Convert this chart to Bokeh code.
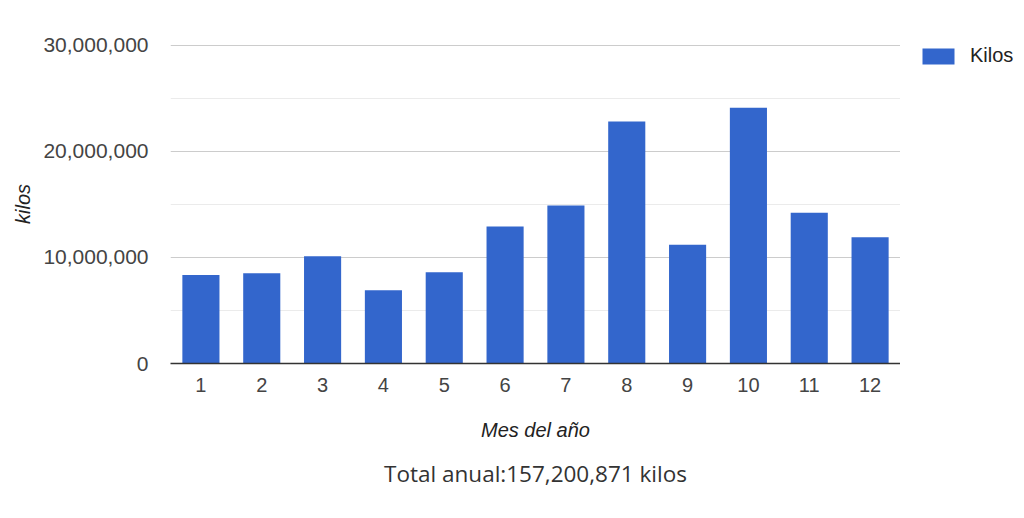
from bokeh.plotting import figure
from bokeh.layouts import row
from bokeh.models import (ColumnDataSource, Range1d, FactorRange, FixedTicker,
                          NumeralTickFormatter, Legend, Title)
from bokeh.embed import file_html
from bokeh.resources import INLINE

months = ["1", "2", "3", "4", "5", "6", "7", "8", "9", "10", "11", "12"]
kilos = [8330000, 8500000, 10100000, 6900000, 8600000, 12900000,
         14900000, 22800000, 11200000, 24100000, 14200000, 11900000]
y_major = [0, 10000000, 20000000, 30000000]
y_minor = [5000000, 15000000, 25000000]
series_name = "Kilos"
x_title = "Mes del año"
y_title = "kilos"
footer = "Total anual:157,200,871 kilos"

BAR_COLOR = "#3366CC"
BASE_FONT = "Liberation Sans"
H = 505
TOP = 44
BOTTOM = H - 363

source = ColumnDataSource(data=dict(month=months, kilos=kilos))

p = figure(width=900, height=H, output_backend="svg", toolbar_location=None,
           x_range=FactorRange(factors=months), y_range=Range1d(0, 30060000),
           min_border_left=170, min_border_right=0, min_border_top=TOP,
           min_border_bottom=BOTTOM)
p.outline_line_color = None
p.background_fill_color = "white"

r = p.vbar(x="month", top="kilos", width=0.61, source=source,
           fill_color=BAR_COLOR, line_color=None)

# y axis
p.yaxis.ticker = FixedTicker(ticks=y_major, minor_ticks=y_minor)
p.yaxis.formatter = NumeralTickFormatter(format="0,0")
p.yaxis.axis_line_color = None
p.yaxis.major_tick_line_color = None
p.yaxis.minor_tick_line_color = None
p.yaxis.major_tick_in = 0
p.yaxis.major_tick_out = 0
p.yaxis.minor_tick_out = 0
p.yaxis.major_label_standoff = 22
p.yaxis.major_label_text_font = BASE_FONT
p.yaxis.major_label_text_font_size = "21px"
p.yaxis.major_label_text_color = "#444444"
p.yaxis.axis_label = y_title
p.yaxis.axis_label_text_font = BASE_FONT
p.yaxis.axis_label_text_font_size = "20px"
p.yaxis.axis_label_text_font_style = "italic"
p.yaxis.axis_label_text_color = "#222222"
p.yaxis.axis_label_standoff = 6

# x axis
p.xaxis.axis_line_color = "#333333"
p.xaxis.axis_line_width = 1.5
p.xaxis.major_tick_line_color = None
p.xaxis.minor_tick_line_color = None
p.xaxis.major_tick_in = 0
p.xaxis.major_tick_out = 0
p.xaxis.major_label_standoff = 14
p.xaxis.major_label_text_font = BASE_FONT
p.xaxis.major_label_text_font_size = "20px"
p.xaxis.major_label_text_color = "#444444"
p.xaxis.axis_label = x_title
p.xaxis.axis_label_text_font = BASE_FONT
p.xaxis.axis_label_text_font_size = "20px"
p.xaxis.axis_label_text_font_style = "italic"
p.xaxis.axis_label_text_color = "#222222"
p.xaxis.axis_label_standoff = 24

# grids
p.xgrid.grid_line_color = None
p.ygrid.grid_line_color = "#cccccc"
p.ygrid.minor_grid_line_color = "#ebebeb"

# footer
p.add_layout(Title(text=footer, align="center", text_font="Open Sans",
                   text_font_size="22.5px", text_font_style="normal",
                   text_color="#333333", standoff=24, offset=-4), "below")

# legend panel to the right of the chart: the same bars on a range that
# does not show them, only so the legend has a renderer to describe
lg = figure(width=120, height=H, output_backend="svg", toolbar_location=None,
            x_range=FactorRange(factors=[series_name]), y_range=Range1d(-2, -1),
            x_axis_type=None, y_axis_type=None,
            min_border_left=18, min_border_top=TOP, min_border_right=0,
            min_border_bottom=BOTTOM)
lg.outline_line_color = None
lg.grid.visible = False
lr = lg.vbar(x="month", top="kilos", width=0.61, source=source,
             fill_color=BAR_COLOR, line_color=None)
legend = Legend(items=[(series_name, [lr])], location="top_left",
                glyph_width=40, glyph_height=20, label_height=20,
                label_standoff=12,
                label_text_font=BASE_FONT, label_text_font_size="20px",
                label_text_color="#222222", padding=3, margin=0,
                border_line_color=None, background_fill_alpha=0)
lg.add_layout(legend)

layout = row(p, lg)
open("out.html", "w").write(file_html(layout, INLINE))
